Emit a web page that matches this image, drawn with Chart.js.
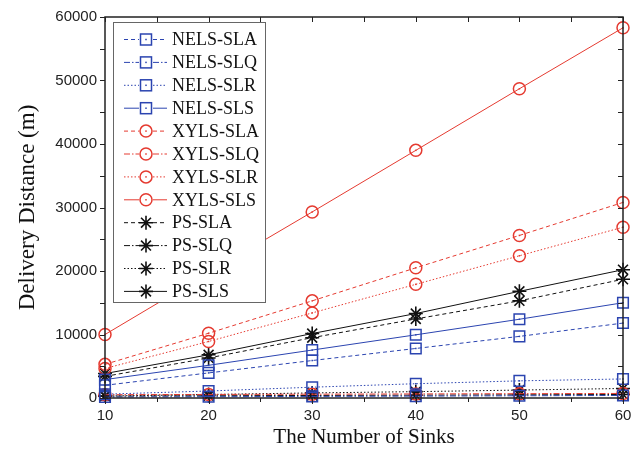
<!DOCTYPE html>
<html>
<head>
<meta charset="utf-8">
<script src="https://cdn.jsdelivr.net/npm/chart.js@4.4.1/dist/chart.umd.min.js"></script>
<style>
  html, body { margin: 0; padding: 0; background: #fff; }
</style>
</head>
<body>
<canvas id="chart" width="641" height="454"></canvas>
<script>
// values
const sinks = [10, 20, 30, 40, 50, 60];

const nelsSLA = [2000, 3950, 5900, 7800, 9700, 11800];
const nelsSLQ = [150, 200, 250, 300, 350, 400];
const nelsSLR = [600, 1100, 1700, 2250, 2700, 3000];
const nelsSLS = [2900, 5150, 7550, 9950, 12400, 15000];

const xylsSLA = [5300, 10200, 15300, 20500, 25600, 30800];
const xylsSLQ = [520, 560, 600, 640, 680, 720];
const xylsSLR = [4650, 8900, 13400, 17900, 22400, 26900];
const xylsSLS = [10000, 19700, 29300, 39000, 48700, 58300];

const psSLA = [3400, 6300, 9500, 12450, 15300, 18700];
const psSLQ = [300, 350, 400, 450, 500, 550];
const psSLR = [300, 550, 800, 1000, 1250, 1500];
const psSLS = [3850, 6800, 10150, 13300, 16800, 20200];

const xTickValues = [10, 20, 30, 40, 50, 60];
const yTickValues = [0, 10000, 20000, 30000, 40000, 50000, 60000];

const BLUE = '#2b44b0';
const RED = '#e53a30';
const BLACK = '#111';

const DASH = {
  SLA: [4, 3],
  SLQ: [6, 2, 1.5, 2],
  SLR: [1.5, 2],
  SLS: []
};

function series(label, values, color, marker, kind) {
  return {
    label,
    data: values.map((v, i) => ({ x: sinks[i], y: v })),
    borderColor: color,
    borderWidth: 1,
    borderDash: DASH[kind],
    pointStyle: marker,
    pointRadius: marker === 'rect' ? 7.5 : (marker === 'star' ? 7 : 6),
    pointBorderColor: color,
    pointBackgroundColor: 'rgba(0,0,0,0)',
    pointBorderWidth: marker === 'star' ? 1.6 : 1.5,
    tension: 0,
    fill: false,
    clip: false
  };
}

const datasets = [
  series('NELS-SLA', nelsSLA, BLUE, 'rect', 'SLA'),
  series('NELS-SLQ', nelsSLQ, BLUE, 'rect', 'SLQ'),
  series('NELS-SLR', nelsSLR, BLUE, 'rect', 'SLR'),
  series('NELS-SLS', nelsSLS, BLUE, 'rect', 'SLS'),
  series('XYLS-SLA', xylsSLA, RED, 'circle', 'SLA'),
  series('XYLS-SLQ', xylsSLQ, RED, 'circle', 'SLQ'),
  series('XYLS-SLR', xylsSLR, RED, 'circle', 'SLR'),
  series('XYLS-SLS', xylsSLS, RED, 'circle', 'SLS'),
  series('PS-SLA', psSLA, BLACK, 'star', 'SLA'),
  series('PS-SLQ', psSLQ, BLACK, 'star', 'SLQ'),
  series('PS-SLR', psSLR, BLACK, 'star', 'SLR'),
  series('PS-SLS', psSLS, BLACK, 'star', 'SLS')
];

function drawMarker(ctx, style, x, y, color) {
  ctx.save();
  ctx.setLineDash([]);
  ctx.strokeStyle = color;
  ctx.fillStyle = color;
  if (style === 'rect') {
    ctx.lineWidth = 1.5;
    ctx.strokeRect(x - 5.5, y - 5.5, 11, 11);
    ctx.fillRect(x - 0.75, y - 0.75, 1.5, 1.5);
  } else if (style === 'circle') {
    ctx.lineWidth = 1.5;
    ctx.beginPath();
    ctx.arc(x, y, 6, 0, Math.PI * 2);
    ctx.stroke();
    ctx.fillRect(x - 0.75, y - 0.75, 1.5, 1.5);
  } else {
    const r = 7, d = r * Math.SQRT1_2;
    ctx.lineWidth = 1.6;
    ctx.beginPath();
    ctx.moveTo(x - r, y); ctx.lineTo(x + r, y);
    ctx.moveTo(x, y - r); ctx.lineTo(x, y + r);
    ctx.moveTo(x - d, y - d); ctx.lineTo(x + d, y + d);
    ctx.moveTo(x - d, y + d); ctx.lineTo(x + d, y - d);
    ctx.stroke();
  }
  ctx.restore();
}

// small dot in the middle of the hollow markers
const centerDots = {
  id: 'centerDots',
  afterDatasetsDraw(chart) {
    const ctx = chart.ctx;
    ctx.save();
    chart.data.datasets.forEach((ds, i) => {
      if (ds.pointStyle === 'star') return;
      ctx.fillStyle = ds.borderColor;
      chart.getDatasetMeta(i).data.forEach(p => {
        ctx.fillRect(p.x - 0.75, p.y - 0.75, 1.5, 1.5);
      });
    });
    ctx.restore();
  }
};

// frame and tick marks on all four sides
const frame = {
  id: 'frame',
  afterDatasetsDraw(chart) {
    const { ctx, chartArea: a, scales: { x, y } } = chart;
    ctx.save();
    ctx.strokeStyle = '#222';
    ctx.lineWidth = 1.5;
    ctx.strokeRect(a.left, a.top, a.right - a.left, a.bottom - a.top);
    ctx.lineWidth = 1;
    ctx.beginPath();
    for (let v = 10; v <= 60; v += 5) {
      const px = Math.round(x.getPixelForValue(v)) + 0.5;
      const major = v % 10 === 0;
      ctx.moveTo(px, a.bottom); ctx.lineTo(px, a.bottom + (major ? 6 : 4));
      ctx.moveTo(px, a.top); ctx.lineTo(px, a.top + 5);
    }
    for (let v = 0; v <= 60000; v += 5000) {
      const py = Math.round(y.getPixelForValue(v)) + 0.5;
      ctx.moveTo(a.left, py); ctx.lineTo(a.left - 5, py);
      ctx.moveTo(a.right, py); ctx.lineTo(a.right - 5, py);
    }
    ctx.stroke();
    ctx.restore();
  }
};

const legendBox = {
  id: 'legendBox',
  afterDraw(chart) {
    const ctx = chart.ctx;
    ctx.save();
    ctx.fillStyle = '#fff';
    ctx.fillRect(113, 22, 153, 280);
    ctx.strokeStyle = '#666';
    ctx.lineWidth = 1;
    ctx.strokeRect(113.5, 22.5, 152, 280);
    chart.data.datasets.forEach((ds, i) => {
      const yy = 39.5 + i * 22.9;
      ctx.strokeStyle = ds.borderColor;
      ctx.lineWidth = 1;
      ctx.setLineDash(ds.borderDash);
      ctx.beginPath();
      ctx.moveTo(124, yy); ctx.lineTo(139, yy);
      ctx.moveTo(153, yy); ctx.lineTo(167, yy);
      ctx.stroke();
      ctx.setLineDash([]);
      drawMarker(ctx, ds.pointStyle, 146, yy, ds.borderColor);
      ctx.fillStyle = '#111';
      ctx.font = '18px "Liberation Serif"';
      ctx.textBaseline = 'middle';
      ctx.textAlign = 'left';
      ctx.fillText(ds.label, 172, yy + 1);
    });
    ctx.restore();
  }
};

new Chart(document.getElementById('chart'), {
  type: 'line',
  data: { datasets },
  options: {
    responsive: false,
    animation: false,
    devicePixelRatio: 1,
    layout: { padding: { left: 0, right: 18, top: 15, bottom: 0 } },
    plugins: {
      legend: { display: false },
      tooltip: { enabled: false }
    },
    scales: {
      x: {
        type: 'linear',
        min: 10,
        max: 60,
        afterFit: s => { s.height = 56; },
        afterBuildTicks: s => { s.ticks = xTickValues.map(v => ({ value: v })); },
        grid: { display: false, drawTicks: false },
        border: { display: false },
        ticks: {
          color: '#222',
          padding: 9,
          font: { family: '"Liberation Sans"', size: 15 },
          maxRotation: 0,
          callback: v => String(v)
        },
        title: {
          display: true,
          text: 'The Number of Sinks',
          color: '#111',
          font: { family: '"Liberation Serif"', size: 21, lineHeight: 1 },
          padding: { top: 0, bottom: 6.5 }
        }
      },
      y: {
        min: 0,
        max: 60000,
        afterFit: s => { s.width = 105; },
        afterBuildTicks: s => { s.ticks = yTickValues.map(v => ({ value: v })); },
        grid: { display: false, drawTicks: false },
        border: { display: false },
        ticks: {
          color: '#222',
          padding: 8,
          font: { family: '"Liberation Sans"', size: 15 },
          callback: v => String(v)
        },
        title: {
          display: true,
          text: 'Delivery Distance (m)',
          color: '#111',
          font: { family: '"Liberation Serif"', size: 23, lineHeight: 1 },
          padding: { top: 16.5, bottom: 0 }
        }
      }
    }
  },
  plugins: [centerDots, frame, legendBox]
});
</script>
</body>
</html>
